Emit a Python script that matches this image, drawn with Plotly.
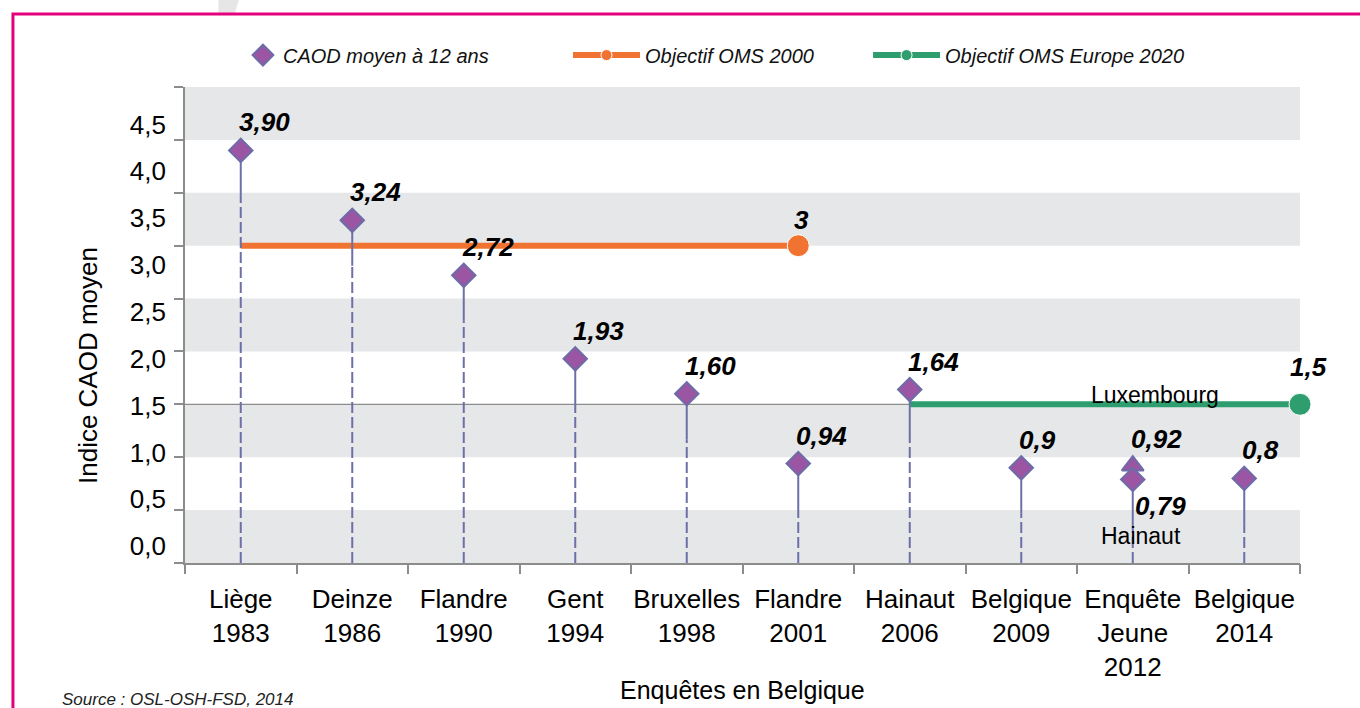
import plotly.graph_objects as go

# ---------------- data ----------------
CATEGORIES = ["Liège<br>1983", "Deinze<br>1986", "Flandre<br>1990", "Gent<br>1994",
              "Bruxelles<br>1998", "Flandre<br>2001", "Hainaut<br>2006",
              "Belgique<br>2009", "Enquête<br>Jeune<br>2012", "Belgique<br>2014"]
CAOD_VALUES = [3.90, 3.24, 2.72, 1.93, 1.60, 0.94, 1.64, 0.90, 0.79, 0.80]
CAOD_LABELS = ["3,90", "3,24", "2,72", "1,93", "1,60", "0,94", "1,64", "0,9", "0,79", "0,8"]

LUX_2012_INDEX = 8
LUX_2012_VALUE = 0.92
LUX_2012_LABEL = "0,92"

OMS2000_X = [0, 5]          # category positions
OMS2000_Y = [3.0, 3.0]
OMS2000_LABEL = "3"

OMS2020_X = [6, 9.5]
OMS2020_Y = [1.5, 1.5]
OMS2020_LABEL = "1,5"

GRID_VALUES = [0, 0.5, 1.0, 1.5, 2.0, 2.5, 3.0, 3.5, 4.0, 4.5]
YTICK_TEXT = ["0,0", "0,5", "1,0", "1,5", "2,0", "2,5", "3,0", "3,5", "4,0", "4,5"]

# ---------------- styles ----------------
FONT = "Liberation Sans, Arial, sans-serif"
PURPLE = "#9b55a2"
PURPLE_EDGE = "#6b6ca8"
STEM = "#6d70a8"
ORANGE = "#f07331"
GREEN = "#2f9e6f"
BAND = "#e6e7e9"
AXIS = "#8c8c8c"
MAGENTA = "#e5007e"
STEM_SOLID = 0.43

idx = list(range(len(CATEGORIES)))

fig = go.Figure()

# objective lines
fig.add_trace(go.Scatter(
    x=OMS2000_X, y=OMS2000_Y, mode="lines+markers", name="<i>Objectif OMS 2000</i>",
    legend="legend2", cliponaxis=False,
    line=dict(color=ORANGE, width=6),
    marker=dict(color=ORANGE, opacity=1, size=[0] * (len(OMS2000_X) - 1) + [22]),
))
fig.add_trace(go.Scatter(
    x=OMS2020_X, y=OMS2020_Y, mode="lines+markers", name="<i>Objectif OMS Europe 2020</i>",
    legend="legend3", cliponaxis=False,
    line=dict(color=GREEN, width=6),
    marker=dict(color=GREEN, opacity=1, size=[0] * (len(OMS2020_X) - 1) + [22]),
))

# stems: dashed lower part, solid upper part
sx, sy, tx, ty = [], [], [], []
for i, v in zip(idx, CAOD_VALUES):
    sx += [i, i, None]
    sy += [0, v - STEM_SOLID, None]
    tx += [i, i, None]
    ty += [v - STEM_SOLID, v, None]
fig.add_trace(go.Scatter(x=sx, y=sy, mode="lines", showlegend=False, hoverinfo="skip",
                         line=dict(color=STEM, width=2, dash="11px,4px")))
fig.add_trace(go.Scatter(x=tx, y=ty, mode="lines", showlegend=False, hoverinfo="skip",
                         line=dict(color=STEM, width=2)))

# Luxembourg 2012 triangle (behind the diamond)
fig.add_trace(go.Scatter(
    x=[LUX_2012_INDEX], y=[LUX_2012_VALUE], mode="markers", showlegend=False,
    marker=dict(symbol="triangle-up", size=19, color=PURPLE,
                line=dict(color=PURPLE_EDGE, width=2)),
))

# diamonds
fig.add_trace(go.Scatter(
    x=idx, y=CAOD_VALUES, mode="markers", name="<i>CAOD moyen à 12 ans</i>",
    legend="legend",
    marker=dict(symbol="diamond", size=18, color=PURPLE,
                line=dict(color=PURPLE_EDGE, width=2)),
))

# dummy traces so overlay axes are drawn
fig.add_trace(go.Scatter(x=[None], y=[None], xaxis="x2", yaxis="y", showlegend=False))
fig.add_trace(go.Scatter(x=[None], y=[None], xaxis="x", yaxis="y2", showlegend=False))

# background bands
shapes = []
for k in range(0, len(GRID_VALUES) - 1, 2):
    shapes.append(dict(type="rect", xref="paper", yref="y", x0=0, x1=1,
                       y0=GRID_VALUES[k], y1=GRID_VALUES[k + 1],
                       fillcolor=BAND, line=dict(width=0), layer="below"))
# 1.5 reference line
shapes.append(dict(type="line", xref="paper", yref="y", x0=0, x1=1,
                   y0=OMS2020_Y[-1], y1=OMS2020_Y[-1],
                   line=dict(color=AXIS, width=1.2), layer="below"))
# page-curl shadow at top
shapes.append(dict(type="path", xref="paper", yref="paper",
                   path="M 0.030,1.19 L 0.0493,1.19 L 0.0448,1.1555 L 0.0300,1.1555 Z",
                   fillcolor="#e6e6e6", line=dict(width=0)))
# magenta frame
shapes.append(dict(type="rect", xref="paper", yref="paper",
                   x0=-0.1543, x1=1.08, y0=-0.4, y1=1.1534,
                   line=dict(color=MAGENTA, width=3), fillcolor="rgba(0,0,0,0)"))

# annotations
LABEL_FONT = dict(family=FONT, size=26, color="#000000")
ann = []
for i, v, t in zip(idx, CAOD_VALUES, CAOD_LABELS):
    if i == LUX_2012_INDEX:
        ann.append(dict(x=i, y=v, text=f"<b><i>{t}</i></b>", showarrow=False,
                        xanchor="left", yanchor="middle", xshift=0, yshift=-27,
                        font=LABEL_FONT))
    else:
        ann.append(dict(x=i, y=v, text=f"<b><i>{t}</i></b>", showarrow=False,
                        xanchor="left", yanchor="middle", xshift=-4, yshift=28,
                        font=LABEL_FONT))
ann.append(dict(x=LUX_2012_INDEX, y=LUX_2012_VALUE, text=f"<b><i>{LUX_2012_LABEL}</i></b>",
                showarrow=False, xanchor="left", yanchor="middle", xshift=-4, yshift=27,
                font=LABEL_FONT))
ann.append(dict(x=OMS2000_X[-1], y=OMS2000_Y[-1], text=f"<b><i>{OMS2000_LABEL}</i></b>",
                showarrow=False, xanchor="center", yanchor="middle", xshift=3, yshift=26,
                font=LABEL_FONT))
ann.append(dict(x=OMS2020_X[-1], y=OMS2020_Y[-1], text=f"<b><i>{OMS2020_LABEL}</i></b>",
                showarrow=False, xanchor="left", yanchor="middle", xshift=-12, yshift=37,
                font=LABEL_FONT))
ann.append(dict(x=8.2, y=1.59, text="Luxembourg", showarrow=False,
                xanchor="center", yanchor="middle",
                font=dict(family=FONT, size=23, color="#000000")))
ann.append(dict(x=8.07, y=0.255, text="Hainaut", showarrow=False,
                xanchor="center", yanchor="middle",
                font=dict(family=FONT, size=23, color="#000000")))
ann.append(dict(xref="paper", yref="paper", x=-0.087, y=0.416, text="Indice CAOD moyen",
                textangle=-90, showarrow=False, xanchor="center", yanchor="middle",
                font=dict(family=FONT, size=26, color="#000000")))
ann.append(dict(xref="paper", yref="paper", x=0.5, y=-0.267, text="Enquêtes en Belgique",
                showarrow=False, xanchor="center", yanchor="middle",
                font=dict(family=FONT, size=25, color="#000000")))
ann.append(dict(xref="paper", yref="paper", x=-0.112, y=-0.286,
                text="<i>Source : OSL-OSH-FSD, 2014</i>",
                showarrow=False, xanchor="left", yanchor="middle",
                font=dict(family=FONT, size=17, color="#222222")))

LEG_COMMON = dict(orientation="h", xanchor="left", y=1.067, yanchor="middle",
                  font=dict(family=FONT, size=20, color="#111111"),
                  bgcolor="rgba(0,0,0,0)")

xr = [-0.5, len(CATEGORIES) - 0.5]
fig.update_layout(
    width=1360, height=708,
    margin=dict(l=185, r=60, t=87, b=145),
    paper_bgcolor="white", plot_bgcolor="white",
    font=dict(family=FONT, color="#000000"),
    shapes=shapes, annotations=ann,
    showlegend=True,
    legend=dict(x=0.052, itemwidth=30, **LEG_COMMON),
    legend2=dict(x=0.3435, itemwidth=67, **LEG_COMMON),
    legend3=dict(x=0.6126, itemwidth=67, **LEG_COMMON),
    xaxis=dict(range=xr, tickvals=idx, ticktext=CATEGORIES, ticks="",
               showline=True, linecolor=AXIS, linewidth=1.5, showgrid=False, zeroline=False,
               tickfont=dict(family=FONT, size=26, color="#000000"),
               ticklabelstandoff=12, fixedrange=True),
    xaxis2=dict(range=xr, overlaying="x", anchor="y", side="bottom",
                tickvals=[i - 0.5 for i in range(len(CATEGORIES) + 1)],
                ticks="outside", ticklen=10, tickcolor=AXIS, tickwidth=1.5,
                showticklabels=False, showline=False, showgrid=False, zeroline=False),
    yaxis=dict(range=[GRID_VALUES[0], GRID_VALUES[-1]], tickvals=GRID_VALUES,
               showticklabels=False, ticks="outside", ticklen=9, tickcolor=AXIS, tickwidth=1.5,
               showline=True, linecolor=AXIS, linewidth=1.5, showgrid=False, zeroline=False),
    yaxis2=dict(range=[-0.18, 4.90], overlaying="y", side="left", anchor="x",
                tickvals=GRID_VALUES, ticktext=YTICK_TEXT, ticks="",
                showline=False, showgrid=False, zeroline=False,
                tickfont=dict(family=FONT, size=26, color="#000000"),
                ticklabelstandoff=18),
)

fig.write_html("out.html", config={"displayModeBar": False},
               post_script="document.body.style.margin='0';document.body.style.overflow='hidden';")
